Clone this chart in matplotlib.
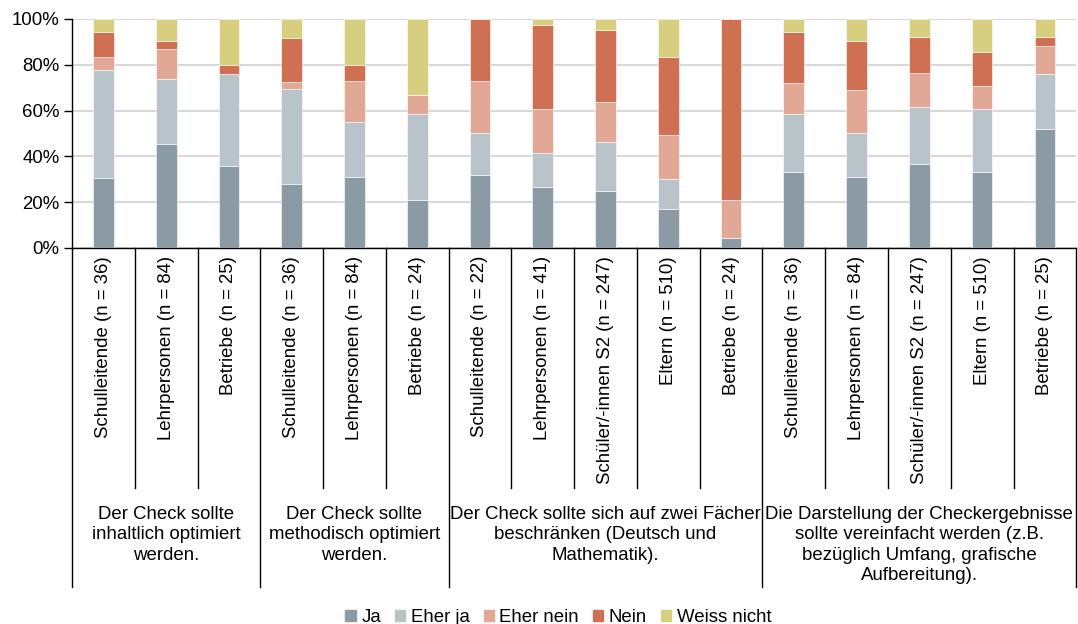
import numpy as np
import matplotlib.pyplot as plt
from matplotlib.patches import Patch

plt.rcParams['font.family'] = ['Liberation Sans', 'DejaVu Sans']

# Daten
kategorien = ["Schulleitende (n = 36)", "Lehrpersonen (n = 84)", "Betriebe (n = 25)",
              "Schulleitende (n = 36)", "Lehrpersonen (n = 84)", "Betriebe (n = 24)",
              "Schulleitende (n = 22)", "Lehrpersonen (n = 41)", "Schüler/-innen S2 (n = 247)",
              "Eltern (n = 510)", "Betriebe (n = 24)",
              "Schulleitende (n = 36)", "Lehrpersonen (n = 84)", "Schüler/-innen S2 (n = 247)",
              "Eltern (n = 510)", "Betriebe (n = 25)"]
gruppen = ["Der Check sollte\ninhaltlich optimiert\nwerden.",
           "Der Check sollte\nmethodisch optimiert\nwerden.",
           "Der Check sollte sich auf zwei Fächer\nbeschränken (Deutsch und\nMathematik).",
           "Die Darstellung der Checkergebnisse\nsollte vereinfacht werden (z.B.\nbezüglich Umfang, grafische\nAufbereitung)."]
gruppen_anzahl = [3, 3, 5, 5]

ja = [30.6, 45.2, 36.0, 27.8, 31.0, 20.8, 31.8, 26.8, 24.7, 17.1, 4.2, 33.3, 31.0, 36.8, 33.1, 52.0]
eher_ja = [47.2, 28.6, 40.0, 41.7, 23.8, 37.5, 18.2, 14.6, 21.4, 13.0, 0.0, 25.0, 19.0, 24.7, 27.6, 24.0]
eher_nein = [5.6, 13.1, 0.0, 2.8, 17.9, 8.3, 22.7, 19.5, 17.7, 19.2, 16.7, 13.9, 19.0, 14.7, 10.1, 12.0]
nein = [11.1, 3.6, 4.0, 19.4, 7.1, 0.0, 27.3, 36.6, 31.4, 34.3, 79.2, 22.2, 21.4, 15.9, 14.6, 4.0]
weiss = [5.6, 9.5, 20.0, 8.3, 20.2, 33.3, 0.0, 2.4, 4.8, 16.4, 0.0, 5.6, 9.5, 7.9, 14.6, 8.0]

serien = ["Ja", "Eher ja", "Eher nein", "Nein", "Weiss nicht"]
farben = ["#8a9ba6", "#b8c4ca", "#e2a896", "#d07052", "#d8ce80"]

fs = 13.4

fig = plt.figure(figsize=(10.78, 6.24), dpi=100)
ax = fig.add_axes([0.0668, 0.6026, 0.9316, 0.367])

x = np.arange(len(kategorien))
unten = np.zeros(len(kategorien))
for werte, farbe in zip([ja, eher_ja, eher_nein, nein, weiss], farben):
    werte = np.array(werte)
    ax.bar(x, werte, bottom=unten, width=0.33, color=farbe, edgecolor="white", linewidth=0.4, zorder=3)
    unten += werte

ax.set_xlim(-0.5, len(kategorien) - 0.5)
ax.set_ylim(0, 100)
ax.set_yticks([0, 20, 40, 60, 80, 100])
ax.set_yticklabels(["0%", "20%", "40%", "60%", "80%", "100%"], fontsize=fs)
ax.tick_params(axis="y", length=6, width=1, pad=3)
ax.set_xticks([])
ax.yaxis.grid(True, color="#d9d9d9", linewidth=1.5, zorder=0)
ax.set_axisbelow(True)
for s in ["top", "right"]:
    ax.spines[s].set_visible(False)
ax.spines["left"].set_linewidth(1)
ax.spines["bottom"].set_linewidth(1)

trans = ax.get_xaxis_transform()

# Kategorie-Beschriftungen
for i, k in enumerate(kategorien):
    ax.text(i, -0.035, k, transform=trans, rotation=90, ha="center", va="top", fontsize=fs)

# Trennlinien
grenzen = np.cumsum([0] + gruppen_anzahl) - 0.5
for b in np.arange(-0.5, len(kategorien)):
    tief = -1.48 if b in grenzen else -1.048
    ax.plot([b, b], [0, tief], transform=trans, color="black", linewidth=1, clip_on=False)

# Gruppen-Beschriftungen
for g, text in enumerate(gruppen):
    mitte = (grenzen[g] + grenzen[g + 1]) / 2
    ax.text(mitte, -1.125, text, transform=trans, ha="center", va="top", fontsize=fs, linespacing=1.27)

handles = [Patch(color=f, label=s) for s, f in zip(serien, farben)]
fig.legend(handles=handles, loc="lower center", bbox_to_anchor=(0.518, -0.03), ncol=5, frameon=False,
           fontsize=fs, handlelength=0.55, handleheight=0.55, handletextpad=0.3, columnspacing=0.75)

fig.savefig("out.png", dpi=100)
